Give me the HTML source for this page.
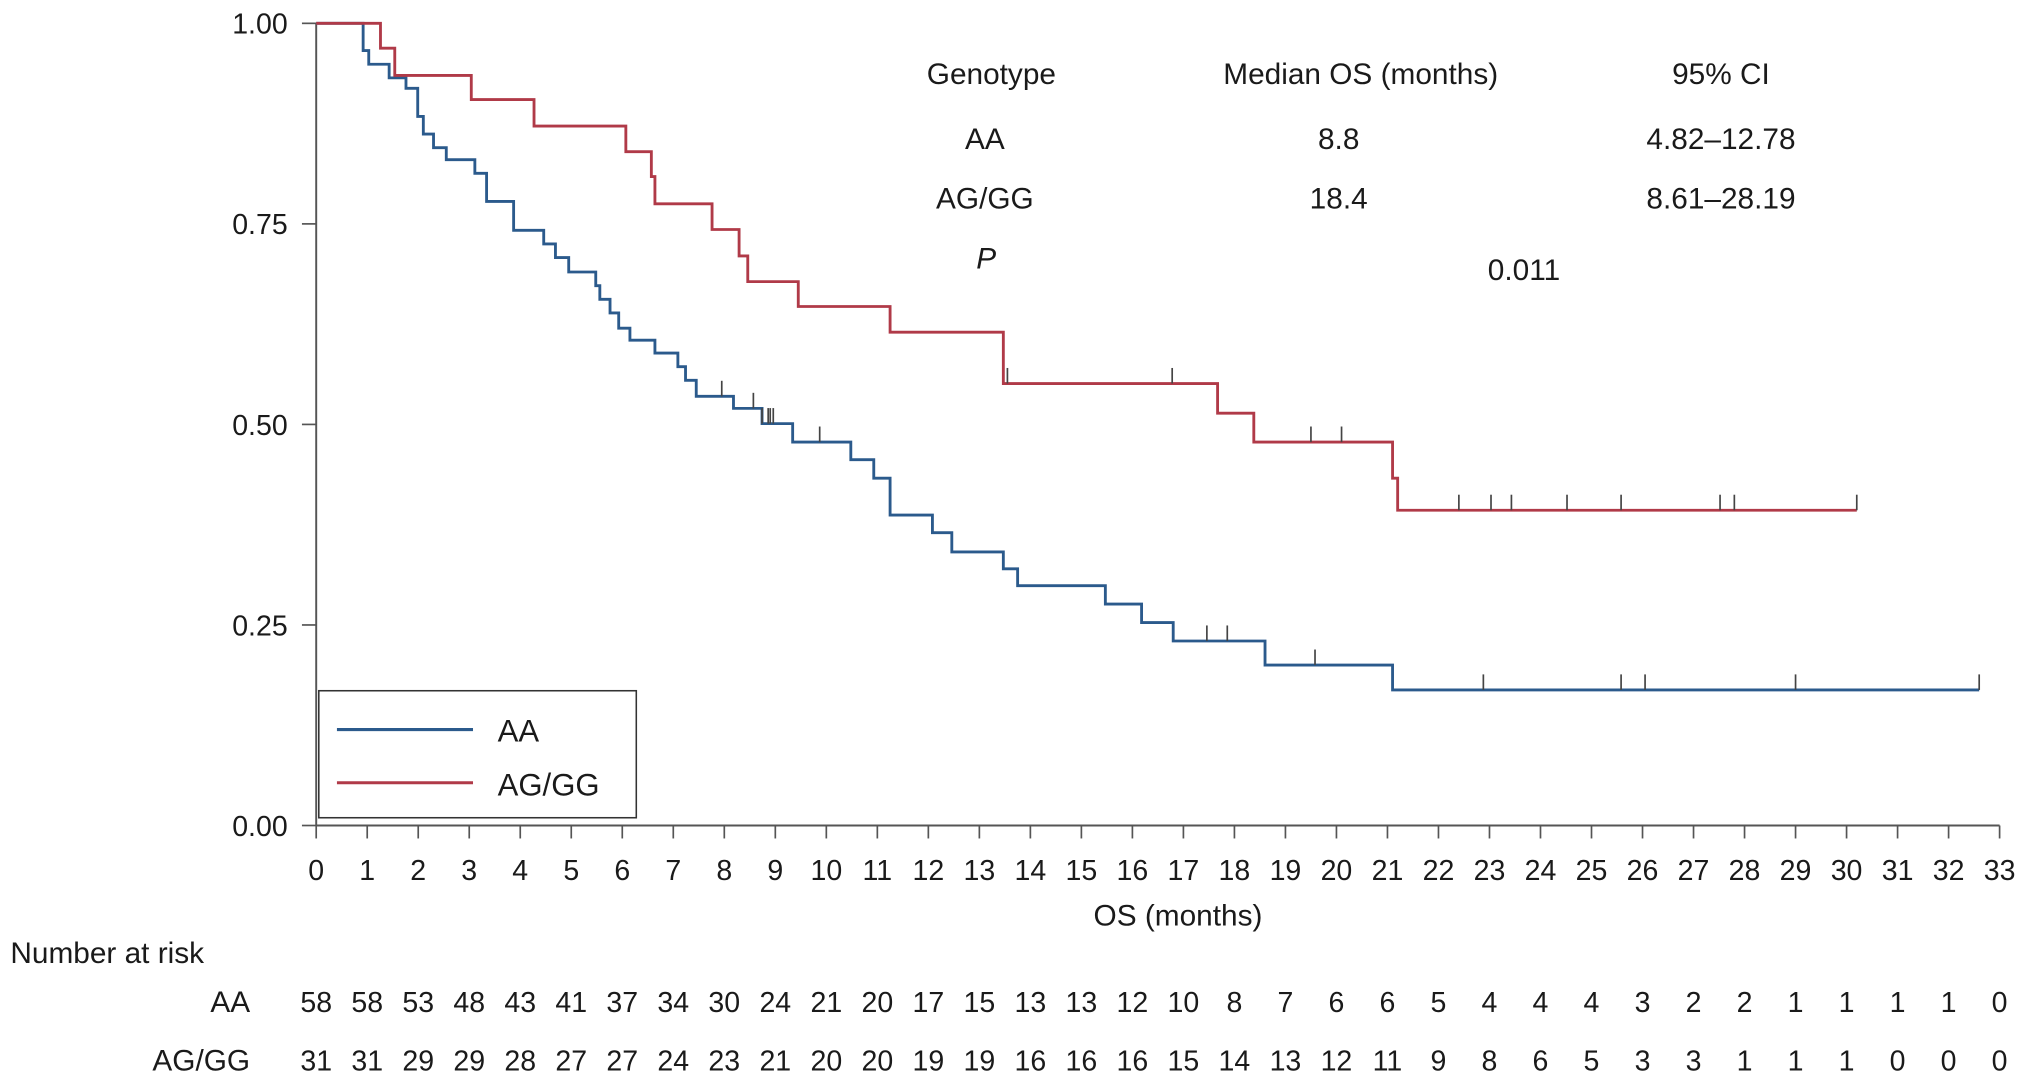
<!DOCTYPE html>
<html><head><meta charset="utf-8"><style>
html,body{margin:0;padding:0;background:#fff;}
svg{display:block;}
text{font-family:"Liberation Sans",Arial,sans-serif;fill:#1a1a1a;}
</style></head><body>
<svg id="chart" width="2032" height="1086" viewBox="0 0 1568 838" xmlns="http://www.w3.org/2000/svg">
<g id="plot"></g>
<g id="legend">
<rect x="246" y="533" width="245" height="98" fill="#fff" stroke="#333" stroke-width="1.2"/>
<line x1="260" y1="563" x2="365" y2="563" stroke="#2b5a8c" stroke-width="2.4"/>
<text x="384" y="572" font-size="24">AA</text>
<line x1="260" y1="604" x2="365" y2="604" stroke="#b03a48" stroke-width="2.4"/>
<text x="384" y="614" font-size="24">AG/GG</text>
</g>
<g id="table" font-size="23" text-anchor="middle">
<text x="765" y="65">Genotype</text>
<text x="1050" y="65">Median OS (months)</text>
<text x="1328" y="65">95% CI</text>
<text x="760" y="115">AA</text>
<text x="1033" y="115">8.8</text>
<text x="1328" y="115">4.82–12.78</text>
<text x="760" y="161">AG/GG</text>
<text x="1033" y="161">18.4</text>
<text x="1328" y="161">8.61–28.19</text>
<text x="761" y="207" font-style="italic">P</text>
<text x="1176" y="216">0.011</text>
</g>
</svg>
<script>
const xTicks=[0,1,2,3,4,5,6,7,8,9,10,11,12,13,14,15,16,17,18,19,20,21,22,23,24,25,26,27,28,29,30,31,32,33];
const yTicks=[0,0.25,0.5,0.75,1.0];
const yTickLabels=["0.00","0.25","0.50","0.75","1.00"];
const aaTimes=[0,0.92,1.03,1.43,1.76,1.99,2.1,2.3,2.55,3.11,3.34,3.87,4.46,4.69,4.95,5.48,5.56,5.76,5.93,6.15,6.64,7.09,7.24,7.45,8.18,8.74,9.34,10.48,10.93,11.25,12.08,12.46,13.47,13.75,15.47,16.18,16.8,18.6,21.1,32.6];
const aaSurv=[1.0,0.966,0.949,0.932,0.919,0.884,0.862,0.845,0.83,0.813,0.778,0.742,0.725,0.708,0.69,0.673,0.656,0.639,0.62,0.605,0.589,0.572,0.555,0.535,0.52,0.501,0.478,0.456,0.433,0.387,0.365,0.341,0.32,0.299,0.276,0.253,0.23,0.2,0.169,0.169];
const aaCensor=[7.95,8.57,8.74,8.86,8.9,8.96,9.87,17.46,17.86,19.58,22.88,25.58,26.05,29,32.6];
const agTimes=[0,1.26,1.54,3.04,4.27,6.07,6.57,6.64,7.76,8.29,8.46,9.45,11.25,13.47,17.67,18.38,21.1,21.2,30.2];
const agSurv=[1.0,0.969,0.935,0.905,0.872,0.84,0.809,0.775,0.743,0.71,0.678,0.647,0.615,0.551,0.514,0.478,0.433,0.393,0.393];
const agCensor=[13.55,16.78,19.5,20.1,22.4,23.03,23.43,24.52,25.58,27.52,27.8,30.2];
const riskAA=[58,58,53,48,43,41,37,34,30,24,21,20,17,15,13,13,12,10,8,7,6,6,5,4,4,4,3,2,2,1,1,1,1,0];
const riskAG=[31,31,29,29,28,27,27,24,23,21,20,20,19,19,16,16,16,15,14,13,12,11,9,8,6,5,3,3,1,1,1,0,0,0];

const X0=244,X1=1543,Y0=637,Y1=18;
const sx=t=>X0+(X1-X0)*t/33;
const sy=v=>Y0-(Y0-Y1)*v;
const NS="http://www.w3.org/2000/svg";
const plot=document.getElementById('plot');
function mk(tag,attrs,parent){const e=document.createElementNS(NS,tag);for(const k in attrs)e.setAttribute(k,attrs[k]);(parent||plot).appendChild(e);return e;}

let ax=mk('line',{x1:X0,y1:Y0,x2:X1,y2:Y0,stroke:'#555','stroke-width':1.5});


let ay=mk('line',{x1:X0,y1:Y0,x2:X0,y2:Y1,stroke:'#555','stroke-width':1.5});


xTicks.forEach(t=>{
  let l=mk('line',{x1:sx(t),y1:Y0,x2:sx(t),y2:Y0+10,stroke:'#555','stroke-width':1.3});
  
  
  let tx=mk('text',{x:sx(t),y:679,'font-size':22,'text-anchor':'middle'});
  tx.textContent=t;
  
  
});
yTicks.forEach((v,i)=>{
  let l=mk('line',{x1:X0-11,y1:sy(v),x2:X0,y2:sy(v),stroke:'#555','stroke-width':1.3});
  
  
  let tx=mk('text',{x:222,y:sy(v)+8,'font-size':22,'text-anchor':'end'});
  tx.textContent=yTickLabels[i];
  
  
});
let xt=mk('text',{x:909,y:714,'font-size':23,'text-anchor':'middle'});
xt.textContent='OS (months)';



function curve(times,surv,censor,color,name){
  let d='M'+sx(times[0])+','+sy(surv[0]);
  for(let i=1;i<times.length;i++){d+=' H'+sx(times[i])+' V'+sy(surv[i]);}
  let p=mk('path',{d:d,fill:'none',stroke:color,'stroke-width':2.2});
  
  
  censor.forEach(c=>{
    let v=surv[0];for(let i=0;i<times.length;i++){if(times[i]<=c)v=surv[i];}
    let l=mk('line',{x1:sx(c),y1:sy(v),x2:sx(c),y2:sy(v)-12,stroke:'#444','stroke-width':1.3});
    
    
  });
}
curve(aaTimes,aaSurv,aaCensor,'#2b5a8c','aa');
curve(agTimes,agSurv,agCensor,'#b03a48','aggg');

let nr=mk('text',{x:8,y:743,'font-size':23});
nr.textContent='Number at risk';


[['AA',riskAA,781,'aa'],['AG/GG',riskAG,826,'aggg']].forEach(r=>{
  let lb=mk('text',{x:193,y:r[2],'font-size':23,'text-anchor':'end'});
  lb.textContent=r[0];
  
  
  r[1].forEach((n,i)=>{
    let t=mk('text',{x:sx(xTicks[i]),y:r[2],'font-size':22,'text-anchor':'middle'});
    t.textContent=n;
    
    
  });
});
</script>
</body></html>
